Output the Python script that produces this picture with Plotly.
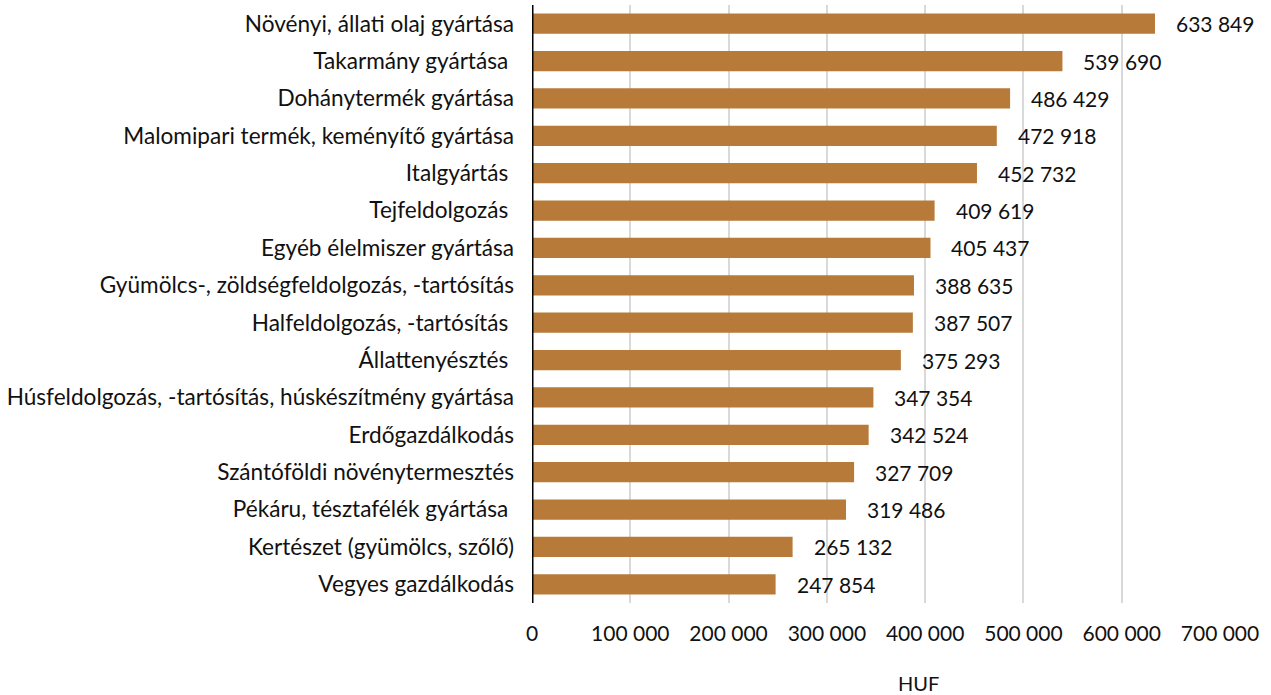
import plotly.graph_objects as go

categories = [
    "Növényi, állati olaj gyártása",
    "Takarmány gyártása ",
    "Dohánytermék gyártása",
    "Malomipari termék, keményítő gyártása",
    "Italgyártás ",
    "Tejfeldolgozás ",
    "Egyéb élelmiszer gyártása",
    "Gyümölcs-, zöldségfeldolgozás, -tartósítás",
    "Halfeldolgozás, -tartósítás ",
    "Állattenyésztés ",
    "Húsfeldolgozás, -tartósítás, húskészítmény gyártása",
    "Erdőgazdálkodás",
    "Szántóföldi növénytermesztés",
    "Pékáru, tésztafélék gyártása ",
    "Kertészet (gyümölcs, szőlő)",
    "Vegyes gazdálkodás",
]
values = [633849, 539690, 486429, 472918, 452732, 409619, 405437, 388635,
          387507, 375293, 347354, 342524, 327709, 319486, 265132, 247854]
tick_vals = [0, 100000, 200000, 300000, 400000, 500000, 600000, 700000]
axis_title = "HUF"

FONT = "Lato, 'Open Sans', sans-serif"
BAR = "#B77A38"

def fmt(v):
    return f"{v:,}".replace(",", " ")

L, R, T, B = 532, 51, 5, 92
W, H = 1271, 695
pw, ph = W - L - R, H - T - B

fig = go.Figure()
fig.add_trace(go.Bar(
    x=values, y=categories, orientation="h",
    marker=dict(color=BAR, line=dict(width=0)),
    hoverinfo="x+y",
))

for c, v in zip(categories, values):
    fig.add_annotation(x=v, y=c, text=fmt(v), showarrow=False,
                       xanchor="left", xshift=19,
                       font=dict(family=FONT, size=21, color="#111"))

fig.add_annotation(x=(918 - L) / pw, y=(H - B - 683) / ph,
                   xref="paper", yref="paper",
                   text=axis_title, showarrow=False,
                   xanchor="center", yanchor="middle",
                   font=dict(family=FONT, size=20, color="#111"))

fig.update_layout(
    width=W, height=H,
    margin=dict(l=L, r=R, t=T, b=B, autoexpand=False),
    paper_bgcolor="white", plot_bgcolor="white",
    separators=", ",
    bargap=0.46,
    showlegend=False,
    font=dict(family=FONT, size=21, color="#111"),
    xaxis=dict(
        range=[0, 700000], tickvals=tick_vals, tickformat=",d",
        showgrid=True, gridcolor="#d9d9d9", gridwidth=2,
        zeroline=False, showline=False, ticks="",
        ticklabelstandoff=16, automargin=False,
        tickfont=dict(family=FONT, size=21, color="#111"),
    ),
    yaxis=dict(
        autorange="reversed", showgrid=False, zeroline=False,
        showline=False, ticks="", ticklabelstandoff=17, automargin=False,
        tickfont=dict(family=FONT, size=22.6, color="#111"),
    ),
)
fig.add_shape(type="line", xref="x", yref="paper", x0=0, x1=0, y0=0, y1=1,
              line=dict(color="black", width=3))

fig.write_html("out.html",
               config={"displayModeBar": False},
               post_script="document.body.style.margin='0';document.body.style.overflow='hidden';")
